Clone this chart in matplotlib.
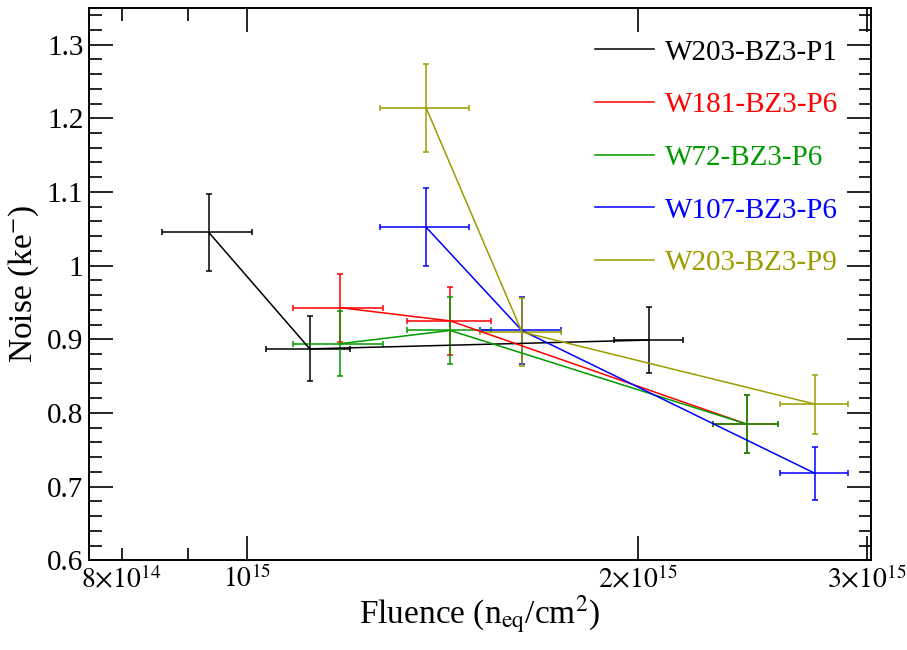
import numpy as np
import matplotlib
matplotlib.use('Agg')
import matplotlib.pyplot as plt
from matplotlib.lines import Line2D
from matplotlib.ticker import FixedLocator, FixedFormatter

plt.rcParams['font.family'] = ['Liberation Serif', 'DejaVu Serif']
plt.rcParams['mathtext.fontset'] = 'stix'

# data (fluence in n_eq/cm^2, noise in ke-)
labels = ['W203-BZ3-P1', 'W181-BZ3-P6', 'W72-BZ3-P6', 'W107-BZ3-P6', 'W203-BZ3-P9']
colors = ['#000000', '#ff0000', '#009a00', '#0000ff', '#9c9c00']

p1_x = [0.934e15, 1.117e15, 2.04e15]
p1_xerr = [0.074e15, 0.083e15, 0.125e15]
p1_y = [1.045, 0.887, 0.899]
p1_yerr = [0.052, 0.044, 0.045]

w181_x = [1.178e15, 1.433e15, 2.423e15]
w181_xerr = [0.093e15, 0.106e15, 0.14e15]
w181_y = [0.943, 0.925, 0.785]
w181_yerr = [0.046, 0.046, 0.039]

w72_x = [1.178e15, 1.433e15, 2.423e15]
w72_xerr = [0.093e15, 0.106e15, 0.14e15]
w72_y = [0.894, 0.912, 0.785]
w72_yerr = [0.044, 0.046, 0.039]

w107_x = [1.373e15, 1.627e15, 2.736e15]
w107_xerr = [0.108e15, 0.117e15, 0.163e15]
w107_y = [1.052, 0.912, 0.718]
w107_yerr = [0.053, 0.046, 0.036]

p9_x = [1.373e15, 1.627e15, 2.736e15]
p9_xerr = [0.108e15, 0.117e15, 0.163e15]
p9_y = [1.214, 0.910, 0.812]
p9_yerr = [0.060, 0.046, 0.040]

series = [
    (p1_x, p1_xerr, p1_y, p1_yerr),
    (w181_x, w181_xerr, w181_y, w181_yerr),
    (w72_x, w72_xerr, w72_y, w72_yerr),
    (w107_x, w107_xerr, w107_y, w107_yerr),
    (p9_x, p9_xerr, p9_y, p9_yerr),
]

x_major = [1e15, 2e15, 3e15]
x_major_labels = [r'$10^{15}$', r'$2{\times}10^{15}$', r'$3{\times}10^{15}$']
x_minor = [8e14, 9e14]
x_minor_labels = [r'$8{\times}10^{14}$', '']
y_major = [0.6, 0.7, 0.8, 0.9, 1.0, 1.1, 1.2, 1.3]
y_major_labels = ['0.6', '0.7', '0.8', '0.9', '1', '1.1', '1.2', '1.3']

fig = plt.figure(figsize=(9.07, 6.5), dpi=100)
ax = fig.add_axes([0.098, 0.138, 0.862, 0.850])

for (x, xe, y, ye), c in zip(series, colors):
    ax.errorbar(x, y, xerr=xe, yerr=ye, color=c, lw=1.1, elinewidth=1.1,
                capsize=2, capthick=1.1)

ax.set_xscale('log')
ax.set_xlim(7.55e14, 3.02e15)
ax.set_ylim(0.6, 1.35)

ax.xaxis.set_major_locator(FixedLocator(x_major))
ax.xaxis.set_major_formatter(FixedFormatter(x_major_labels))
ax.xaxis.set_minor_locator(FixedLocator(x_minor))
ax.xaxis.set_minor_formatter(FixedFormatter(x_minor_labels))
ax.yaxis.set_major_locator(FixedLocator(y_major))
ax.yaxis.set_major_formatter(FixedFormatter(y_major_labels))
ax.yaxis.set_minor_locator(FixedLocator(np.arange(0.62, 1.35, 0.02)))

ax.tick_params(which='both', direction='in', top=True, right=True,
               width=1.2, pad=4)
ax.tick_params(axis='y', labelsize=21)
ax.tick_params(axis='x', which='both', labelsize=20)
ax.tick_params(which='major', length=17)
ax.tick_params(which='minor', length=9)
for s in ax.spines.values():
    s.set_linewidth(1.4)

ax.set_xlabel(r'Fluence (n$_{\rm eq}$/cm$^{2}$)', fontsize=24, labelpad=0)
ax.set_ylabel(r'Noise (ke$^{-}$)', fontsize=24, labelpad=4)

# legend: plain line samples with coloured text
handles = [Line2D([], [], color=c, lw=1.1) for c in colors]
leg = ax.legend(handles, labels, loc='upper right', frameon=False, fontsize=21,
                handlelength=2.0, handletextpad=0.4, labelspacing=0.9,
                borderaxespad=0.3, bbox_to_anchor=(0.985, 0.98))
for t, c in zip(leg.get_texts(), colors):
    t.set_color(c)

fig.savefig('out.png', dpi=100)
